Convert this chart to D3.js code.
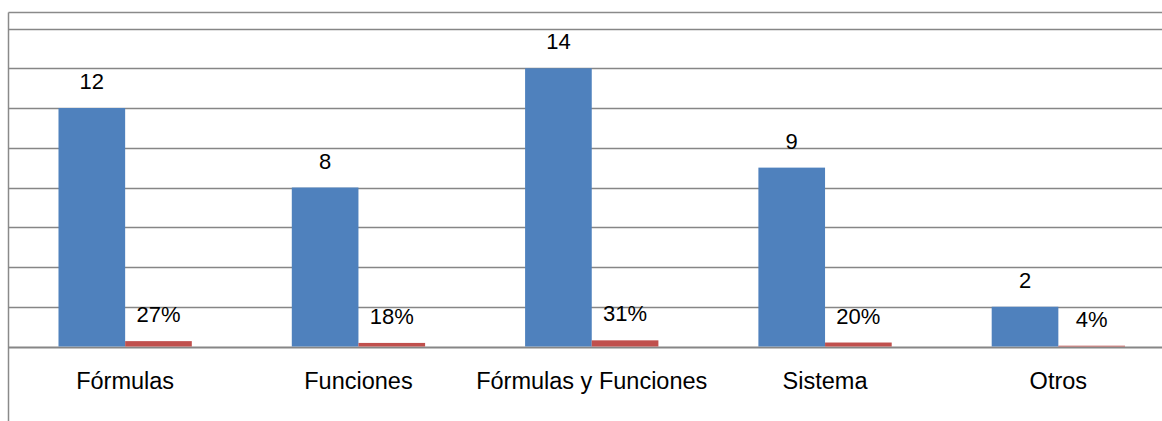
<!DOCTYPE html>
<html>
<head>
<meta charset="utf-8">
<script src="https://cdn.jsdelivr.net/npm/d3@7"></script>
<style>
  html, body { margin: 0; padding: 0; background: #fff; }
  svg { display: block; }
  text { font-family: "Liberation Sans", Arial, sans-serif; fill: #000; }
</style>
</head>
<body>
<svg id="chart" width="1162" height="421"></svg>
<script>
const categories = ["Fórmulas", "Funciones", "Fórmulas y Funciones", "Sistema", "Otros"];
const counts = [12, 8, 14, 9, 2];
const shares = [0.27, 0.18, 0.31, 0.20, 0.04];
const seriesKeys = ["count", "share"];
const yTicks = [0, 2, 4, 6, 8, 10, 12, 14, 16];

const W = 1162, H = 421;
const svg = d3.select("#chart");

const plot = { left: 8.5, right: 1175, top: 28.5, bottom: 346.5 };

const x0 = d3.scaleBand().domain(categories).range([plot.left, plot.right]).paddingInner(0).paddingOuter(0);
const x1 = d3.scaleBand().domain(seriesKeys).range([0, x0.bandwidth()]).paddingInner(0).paddingOuter(0.75);
const y = d3.scaleLinear().domain([0, 16]).range([plot.bottom, plot.top]);

const colors = { count: "#4F81BD", share: "#C0504D" };
const fmtPct = d3.format(".0%");

// outer frame (top and left edges)
svg.append("line").attr("x1", 8.5).attr("x2", W).attr("y1", 12.5).attr("y2", 12.5)
  .attr("stroke", "#8a8a8a").attr("stroke-width", 1.5);
svg.append("line").attr("x1", 8.5).attr("x2", 8.5).attr("y1", 12.5).attr("y2", H)
  .attr("stroke", "#8a8a8a").attr("stroke-width", 1.5);

// gridlines
svg.append("g").selectAll("line").data(yTicks).join("line")
  .attr("x1", plot.left).attr("x2", W)
  .attr("y1", d => Math.round(y(d)) + 0.5).attr("y2", d => Math.round(y(d)) + 0.5)
  .attr("stroke", "#868686").attr("stroke-width", d => d === 0 ? 2 : 1.5);

const rows = categories.map((c, i) => ({ cat: c, count: counts[i], share: shares[i] }));

const groups = svg.append("g").selectAll("g").data(rows).join("g")
  .attr("transform", d => `translate(${x0(d.cat)},0)`);

groups.selectAll("rect").data(d => seriesKeys.map(k => ({ key: k, value: d[k] }))).join("rect")
  .attr("x", d => x1(d.key))
  .attr("width", x1.bandwidth())
  .attr("y", d => y(d.value))
  .attr("height", d => y(0) - y(d.value))
  .attr("fill", d => colors[d.key]);

groups.selectAll("text.val").data(d => seriesKeys.map(k => ({ key: k, value: d[k] }))).join("text")
  .attr("class", "val")
  .attr("x", d => x1(d.key) + x1.bandwidth() / 2)
  .attr("y", d => y(d.value) - 19)
  .attr("text-anchor", "middle")
  .style("font-size", "22px")
  .text(d => d.key === "share" ? fmtPct(d.value) : d.value);

// category labels
svg.append("g").selectAll("text").data(categories).join("text")
  .attr("x", d => x0(d) + x0.bandwidth() / 2)
  .attr("y", 389)
  .attr("text-anchor", "middle")
  .style("font-size", "23.5px")
  .text(d => d);
</script>
</body>
</html>
